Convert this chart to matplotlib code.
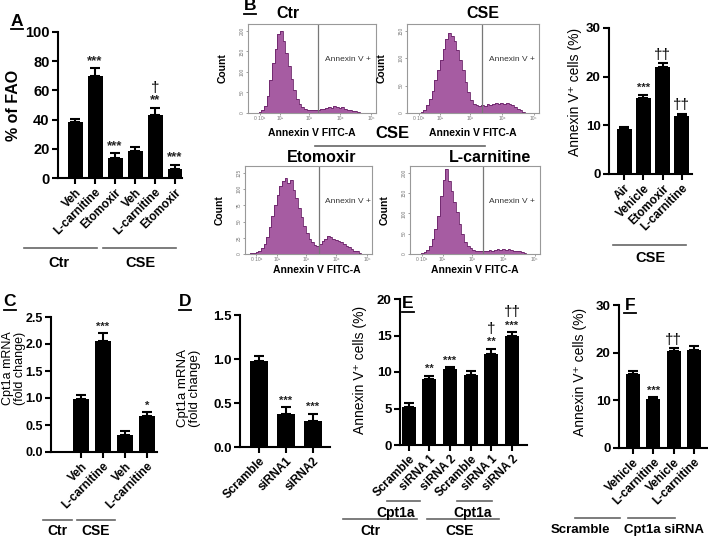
import numpy as np
import matplotlib
matplotlib.use('Agg')
from matplotlib import pyplot as plt
from matplotlib.lines import Line2D

W, H = 708, 537
plt.rcParams['font.family'] = ['Liberation Sans', 'DejaVu Sans']
plt.rcParams['font.weight'] = 'bold'

# ---------------- data ----------------
# A: % of FAO
fao_labels = ['Veh', 'L-carnitine', 'Etomoxir', 'Veh', 'L-carnitine', 'Etomoxir']
fao_values = [38.5, 70, 14, 18.5, 43, 6.5]
fao_errors = [2, 5, 3, 3, 5, 2.5]
fao_stars = ['', '***', '***', '', '**', '***']
fao_daggers = ['', '', '', '', '†', '']

# B right: Annexin V+ cells
apo_labels = ['Air', 'Vehicle', 'Etomoxir', 'L-carnitine']
apo_values = [9.2, 15.7, 22.0, 12.0]
apo_errors = [0.5, 0.6, 0.8, 0.4]
apo_stars = ['', '***', '', '']
apo_daggers = ['', '', '††', '††']

# B flow histograms (percent of plot height, 48 bins across the axis)
flow_titles = ['Ctr', 'CSE', 'Etomoxir', 'L-carnitine']
flow_ctr = [0, 0, 0, 0, 1, 3, 8, 20, 38, 58, 75, 92, 96, 84, 70, 55, 40, 27, 16, 10,
            7, 5, 4, 4, 3, 3, 4, 5, 5, 6, 7, 6, 8, 7, 6, 7, 5, 4, 3, 2,
            2, 1, 0, 0, 0, 0, 0, 0]
flow_cse = [0, 0, 0, 0, 0, 1, 4, 9, 16, 26, 38, 50, 62, 75, 86, 94, 90, 84, 74, 62,
            50, 36, 24, 15, 11, 9, 8, 9, 8, 10, 9, 11, 12, 10, 12, 11, 12, 10, 9, 7,
            5, 3, 1, 0, 0, 0, 0, 0]
flow_eto = [0, 0, 1, 1, 2, 4, 7, 12, 20, 32, 45, 58, 70, 80, 86, 90, 84, 88, 76, 66,
            54, 44, 33, 25, 18, 14, 11, 10, 12, 15, 18, 21, 20, 18, 17, 15, 14, 12, 10, 8,
            6, 4, 3, 1, 0, 0, 0, 0]
flow_lcar = [0, 0, 0, 0, 1, 2, 5, 10, 18, 30, 45, 68, 88, 100, 86, 74, 62, 50, 36, 24,
             14, 9, 7, 5, 4, 4, 3, 4, 4, 5, 4, 5, 6, 5, 6, 5, 6, 5, 4, 4,
             3, 2, 1, 0, 0, 0, 0, 0]
flow_gates = [0.55, 0.57, 0.58, 0.56]
flow_yticks = [['0', '50', '100', '150', '200'], ['0', '50', '100', '150'],
               ['0', '25', '50', '75', '100', '125'], ['0', '50', '100', '150', '200']]
flow_xticks = [0.09, 0.25, 0.48, 0.72, 0.96]
flow_xlabels = ['0 10¹', '10²', '10³', '10⁴', '10⁵']

# C: Cpt1a mRNA with L-carnitine
cpt_labels = ['Veh', 'L-carnitine', 'Veh', 'L-carnitine']
cpt_values = [0.98, 2.05, 0.32, 0.67]
cpt_errors = [0.08, 0.15, 0.07, 0.07]
cpt_stars = ['', '***', '', '*']

# D: Cpt1a mRNA with siRNA
si_labels = ['Scramble', 'siRNA1', 'siRNA2']
si_values = [0.98, 0.37, 0.30]
si_errors = [0.05, 0.08, 0.08]
si_stars = ['', '***', '***']

# E: Annexin V+ with siRNA
e_labels = ['Scramble', 'siRNA 1', 'siRNA 2', 'Scramble', 'siRNA 1', 'siRNA 2']
e_values = [5.2, 9.0, 10.4, 9.6, 12.5, 15.0]
e_errors = [0.5, 0.5, 0.3, 0.6, 0.7, 0.5]
e_stars = ['', '**', '***', '', '**', '***']
e_daggers = ['', '', '', '', '†', '††']

# F: Annexin V+ with siRNA and L-carnitine
f_labels = ['Vehicle', 'L-carnitine', 'Vehicle', 'L-carnitine']
f_values = [15.6, 10.3, 20.3, 20.5]
f_errors = [0.5, 0.4, 0.7, 0.8]
f_stars = ['', '***', '', '']
f_daggers = ['', '', '††', '']


# ---------------- helpers ----------------
fig = plt.figure(figsize=(W / 100, H / 100), dpi=100)


def px_axes(l, t, r, b):
    return fig.add_axes([l / W, 1 - b / H, (r - l) / W, (b - t) / H])


def ftext(x, y, s, **kw):
    kw.setdefault('ha', 'center')
    kw.setdefault('va', 'center')
    fig.text(x / W, 1 - y / H, s, **kw)


def fline(x0, x1, y, color='#666666', lw=1.2):
    fig.add_artist(Line2D([x0 / W, x1 / W], [1 - y / H, 1 - y / H],
                          transform=fig.transFigure, color=color, lw=lw))


def letter(x, y, s):
    ftext(x, y, s, fontsize=12.5)
    fline(x - 6, x + 6, y + 8, color='black', lw=1.3)


def bar_panel(rect, first, step, width, values, errors, labels, ylim, yticks,
              stars, daggers=None, fmt='{:g}', star_size=8, tick_size=9.5):
    l, t, r, b = rect
    ax = px_axes(l, t, r, b)
    n = len(values)
    x = np.arange(n)
    ax.bar(x, values, width=width / step, color='black')
    ax.errorbar(x, values, yerr=[np.zeros(n), errors], fmt='none', ecolor='black',
                elinewidth=1.5, capsize=3.5, capthick=1.5)
    ax.set_xlim((l - first) / step, (r - first) / step)
    ax.set_ylim(*ylim)
    ax.set_yticks(yticks)
    ax.set_yticklabels([fmt.format(v) for v in yticks], fontsize=tick_size)
    ax.set_xticks(x)
    ax.set_xticklabels(labels, rotation=45, ha='right', rotation_mode='anchor',
                       fontsize=8.5)
    for side in ['top', 'right']:
        ax.spines[side].set_visible(False)
    for side in ['left', 'bottom']:
        ax.spines[side].set_linewidth(1.5)
    ax.tick_params(direction='out', length=4, width=1.5, pad=2)
    for i in range(n):
        top = values[i] + errors[i]
        if stars[i]:
            ax.annotate(stars[i], (i, top), xytext=(0, 1), textcoords='offset points',
                        ha='center', va='bottom', fontsize=star_size, color='#222222')
        if daggers and daggers[i]:
            off = 9 if stars[i] else 1
            ax.annotate(daggers[i], (i, top), xytext=(0, off), textcoords='offset points',
                        ha='center', va='bottom', fontsize=11, weight='normal')
    return ax


def flow_panel(rect, counts, gate, ylabels):
    ax = px_axes(*rect)
    edges = np.linspace(0, 1, len(counts) + 1)
    ax.stairs(counts, edges, fill=True, color='#a65ca2')
    ax.stairs(counts, edges, color='#6a2268', lw=0.6)
    ax.axvline(gate, color='#777777', lw=0.9)
    ax.set_xlim(0, 1)
    ax.set_ylim(0, 104)
    for s in ax.spines.values():
        s.set_color('#999999')
        s.set_linewidth(0.8)
    ax.set_xticks(flow_xticks)
    ax.set_xticklabels(flow_xlabels, fontsize=3.5, weight='normal', color='#555555')
    ax.set_yticks(np.linspace(0, 96, len(ylabels)))
    ax.set_yticklabels(ylabels, fontsize=3.5, weight='normal', color='#555555',
                       rotation=90, va='center')
    ax.tick_params(length=1.5, width=0.5, pad=1, colors='#777777')
    ax.text(gate + 0.05, 0.6, 'Annexin V +', transform=ax.transAxes, fontsize=6,
            weight='normal', color='#333333', va='center')
    return ax


# ---------------- panel A ----------------
letter(17, 21, 'A')
bar_panel((58, 32, 182, 178), 75, 20, 15, fao_values, fao_errors, fao_labels,
          (0, 100), [0, 20, 40, 60, 80, 100], fao_stars, fao_daggers, star_size=9.5,
          tick_size=10.5)
ftext(13, 105, '% of FAO', rotation=90, fontsize=11.5)
fline(24, 97, 248)
fline(103, 176, 248)
ftext(59, 263, 'Ctr', fontsize=10.5)
ftext(140, 263, 'CSE', fontsize=10.5)

# ---------------- panel B flow ----------------
letter(250, 6, 'B')
flow_rects = [(248, 24, 376, 113), (407, 24, 539, 113),
              (245, 166, 372, 254), (410, 166, 540, 254)]
flow_data = [flow_ctr, flow_cse, flow_eto, flow_lcar]
title_pos = [(288, 13), (483, 13), (322, 157), (490, 157)]
for k in range(4):
    flow_panel(flow_rects[k], flow_data[k], flow_gates[k], flow_yticks[k])
    ftext(title_pos[k][0], title_pos[k][1], flow_titles[k], fontsize=11.5)
    l, t, r, b = flow_rects[k]
    ftext(l - 25, (t + b) / 2, 'Count', rotation=90, fontsize=7.5)
ftext(312, 133, 'Annexin V FITC-A', fontsize=7.5)
ftext(473, 133, 'Annexin V FITC-A', fontsize=7.5)
ftext(317, 270, 'Annexin V FITC-A', fontsize=7.5)
ftext(475, 270, 'Annexin V FITC-A', fontsize=7.5)
ftext(392, 133, 'CSE', fontsize=12)
fline(315, 485, 146)

# ---------------- panel B right ----------------
bar_panel((609, 28, 692, 174), 624, 19.3, 15, apo_values, apo_errors, apo_labels,
          (0, 30), [0, 10, 20, 30], apo_stars, apo_daggers)
ftext(575, 92, 'Annexin V⁺ cells (%)', rotation=90, fontsize=10, weight='normal')
fline(613, 686, 245)
ftext(650, 258, 'CSE', fontsize=10.5)

# ---------------- panel C ----------------
letter(10, 302, 'C')
bar_panel((51, 317, 157, 452), 81, 22, 16, cpt_values, cpt_errors, cpt_labels,
          (0, 2.5), [0, 0.5, 1.0, 1.5, 2.0, 2.5], cpt_stars, fmt='{:.1f}',
          tick_size=9)
ftext(14, 368, 'Cpt1a mRNA\n(fold change)', rotation=90, fontsize=9,
      weight='normal', linespacing=1.0)
fline(43, 72, 520)
fline(77, 115, 520)
ftext(57, 531, 'Ctr', fontsize=10)
ftext(96, 531, 'CSE', fontsize=10)

# ---------------- panel D ----------------
letter(185, 302, 'D')
bar_panel((240, 315, 330, 447), 259, 27, 18, si_values, si_errors, si_labels,
          (0, 1.5), [0, 0.5, 1.0, 1.5], si_stars, fmt='{:.1f}')
ftext(189, 388, 'Cpt1a mRNA\n(fold change)', rotation=90, fontsize=9.5,
      weight='normal', linespacing=1.0)

# ---------------- panel E ----------------
letter(408, 304, 'E')
bar_panel((400, 299, 527, 445), 408.5, 20.7, 14, e_values, e_errors, e_labels,
          (0, 20), [0, 5, 10, 15, 20], e_stars, e_daggers)
ftext(360, 370, 'Annexin V⁺ cells (%)', rotation=90, fontsize=10, weight='normal')
fline(387, 420, 501)
fline(457, 492, 501)
ftext(396, 513, 'Cpt1a', fontsize=10)
ftext(473, 513, 'Cpt1a', fontsize=10)
fline(343, 417, 519)
fline(427, 499, 519)
ftext(370, 531, 'Ctr', fontsize=10)
ftext(460, 531, 'CSE', fontsize=10)

# ---------------- panel F ----------------
letter(630, 305, 'F')
bar_panel((619, 305, 707, 448), 633, 20.3, 14, f_values, f_errors, f_labels,
          (0, 30), [0, 10, 20, 30], f_stars, f_daggers)
ftext(580, 372, 'Annexin V⁺ cells (%)', rotation=90, fontsize=10, weight='normal')
fline(575, 620, 518)
fline(628, 675, 518)
ftext(580, 530, 'Scramble', fontsize=9.5)
ftext(664, 530, 'Cpt1a siRNA', fontsize=9.5)

fig.savefig('out.png', dpi=100)
